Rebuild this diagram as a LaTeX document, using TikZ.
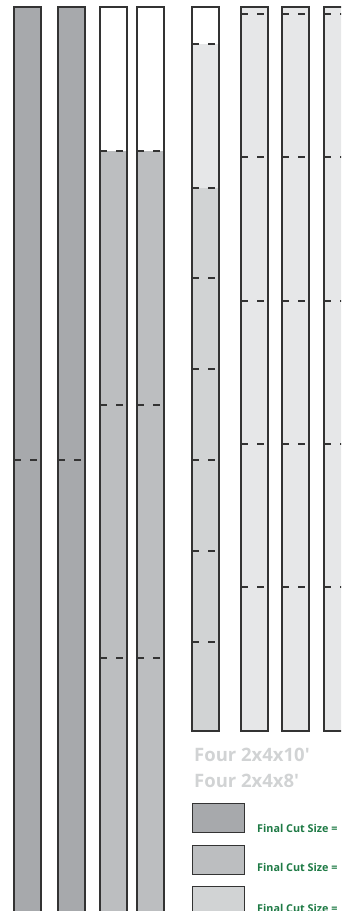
\documentclass[tikz,border=0pt]{standalone}
\usepackage{fontspec}
\setmainfont{Open Sans}
\usetikzlibrary{positioning}
\definecolor{darkboard}{HTML}{A7A9AC}
\definecolor{midboard}{HTML}{BCBEC0}
\definecolor{paleboard}{HTML}{D1D3D4}
\definecolor{lightboard}{HTML}{E6E7E8}
\definecolor{edgegray}{HTML}{333333}
\definecolor{titlegray}{HTML}{D1D3D4}
\definecolor{cutgreen}{HTML}{1E7A45}
\tikzset{
  board/.style={draw=edgegray,line width=1.3pt},
  cutline/.style={draw=edgegray,line width=1.3pt,dash pattern=on 7pt off 9pt},
  swatch/.style={draw=edgegray,line width=1.3pt,minimum width=52pt,minimum height=29pt,inner sep=0pt},
  titletext/.style={text=titlegray,inner sep=0pt,font=\bfseries\fontsize{18.5}{21}\selectfont},
  cutsize/.style={text=cutgreen,inner sep=0pt,font=\bfseries\fontsize{10.8}{12}\selectfont}
}

\begin{document}
\begin{tikzpicture}[x=1pt,y=-1pt]
  \useasboundingbox (0,0) rectangle (341,911);
  \clip (0,0) rectangle (341,911);
  % full length boards
  \foreach \x in {14,58} {
    \fill[darkboard] (\x,7) rectangle (\x+27,922);
    \draw[board] (\x,7) rectangle (\x+27,922);
    \draw[cutline] (\x,460) -- ++(27,0);
  }
  \foreach \x in {100,137} {
    \fill[midboard] (\x,151) rectangle (\x+27,922);
    \draw[board] (\x,7) rectangle (\x+27,922);
    \foreach \y in {151,405,658} \draw[cutline] (\x,\y) -- ++(27,0);
  }
  % shorter boards
  \fill[lightboard] (192,44) rectangle (219,188);
  \fill[paleboard] (192,188) rectangle (219,731);
  \draw[board] (192,7) rectangle (219,731);
  \foreach \y in {44,188,278,369,460,551,642} \draw[cutline] (192,\y) -- ++(27,0);
  \foreach \x in {241,282,324} {
    \fill[lightboard] (\x,7) rectangle (\x+27,731);
    \draw[board] (\x,7) rectangle (\x+27,731);
    \foreach \y in {14,157,301,444,587} \draw[cutline] (\x,\y) -- ++(27,0);
  }
  \node[titletext,anchor=base west] (tenfoot) at (194,761) {Four 2x4x10\textquotesingle};
  \node[titletext,anchor=base west] (eightfoot) at (194,787) {Four 2x4x8\textquotesingle};
  % key
  \node[swatch,fill=darkboard,anchor=north west] (keydark) at (192,803) {};
  \node[swatch,fill=midboard,anchor=north west] (keymid) at (192,845) {};
  \node[swatch,fill=paleboard,anchor=north west] (keypale) at (192,886) {};
  \node[cutsize,anchor=base west] (cutdark) at (257,832) {Final Cut Size =};
  \node[cutsize,anchor=base west] (cutmid) at (257,871) {Final Cut Size =};
  \node[cutsize,anchor=base west] (cutpale) at (257,912) {Final Cut Size =};
\end{tikzpicture}
\end{document}
